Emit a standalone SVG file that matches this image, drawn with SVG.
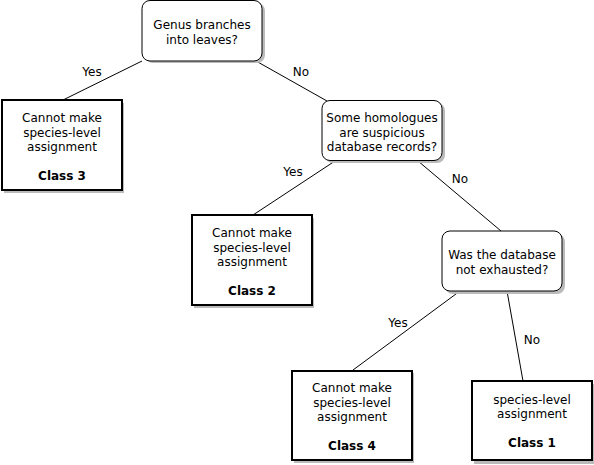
<svg xmlns="http://www.w3.org/2000/svg" width="594" height="465" viewBox="0 0 594 465">
<style>
text{font-family:"DejaVu Sans",Verdana,sans-serif;font-size:12px;fill:#000;text-anchor:middle}
.b{font-weight:bold}
.q{fill:#fff;stroke:#000;stroke-width:1}
.c{fill:#fff;stroke:#000;stroke-width:2}
.s{fill:#bbb;stroke:none}
.e{stroke:#000;stroke-width:1;fill:none}
</style>
<rect width="594" height="465" fill="#fff"/>
<g id="connectors">
<line class="e" x1="142" y1="61" x2="63" y2="100"/>
<line class="e" x1="256" y1="61" x2="327" y2="101"/>
<line class="e" x1="335" y1="161" x2="253" y2="215"/>
<line class="e" x1="418" y1="161" x2="501" y2="231"/>
<line class="e" x1="460" y1="291" x2="353" y2="370"/>
<line class="e" x1="507" y1="291" x2="523" y2="381"/>
<text x="92" y="76">Yes</text>
<text x="301" y="76">No</text>
<text x="293" y="176">Yes</text>
<text x="460" y="183">No</text>
<text x="398" y="327">Yes</text>
<text x="532" y="344">No</text>
</g>
<g id="q1">
<rect class="s" x="145" y="3" width="120" height="60" rx="8"/>
<rect class="q" x="142" y="0.5" width="120" height="60.5" rx="8"/>
<text x="202" y="29">Genus branches</text>
<text x="202" y="44">into leaves?</text>
</g>
<g id="class3">
<rect class="s" x="4" y="103" width="120" height="90"/>
<rect class="c" x="2" y="100" width="120" height="90"/>
<text x="62" y="122">Cannot make</text>
<text x="62" y="137">species-level</text>
<text x="62" y="151">assignment</text>
<text class="b" x="62" y="180">Class 3</text>
</g>
<g id="q2">
<rect class="s" x="325" y="103" width="120" height="60" rx="8"/>
<rect class="q" x="322" y="100.5" width="120" height="60" rx="8"/>
<text x="382" y="122">Some homologues</text>
<text x="382" y="137">are suspicious</text>
<text x="382" y="151">database records?</text>
</g>
<g id="class2">
<rect class="s" x="194" y="218" width="120" height="90"/>
<rect class="c" x="192" y="215" width="120" height="90"/>
<text x="252" y="237">Cannot make</text>
<text x="252" y="252">species-level</text>
<text x="252" y="266">assignment</text>
<text class="b" x="252" y="295">Class 2</text>
</g>
<g id="q3">
<rect class="s" x="445" y="234" width="120" height="60" rx="8"/>
<rect class="q" x="442" y="231" width="120" height="60" rx="8"/>
<text x="502" y="259">Was the database</text>
<text x="502" y="274">not exhausted?</text>
</g>
<g id="class4">
<rect class="s" x="294" y="373" width="120" height="90"/>
<rect class="c" x="292" y="371" width="120" height="89"/>
<text x="352" y="392">Cannot make</text>
<text x="352" y="407">species-level</text>
<text x="352" y="421">assignment</text>
<text class="b" x="352" y="450">Class 4</text>
</g>
<g id="class1">
<rect class="s" x="474" y="384" width="120" height="80"/>
<rect class="c" x="472" y="381" width="120" height="79"/>
<text x="532" y="404">species-level</text>
<text x="532" y="418">assignment</text>
<text class="b" x="532" y="447">Class 1</text>
</g>
</svg>
